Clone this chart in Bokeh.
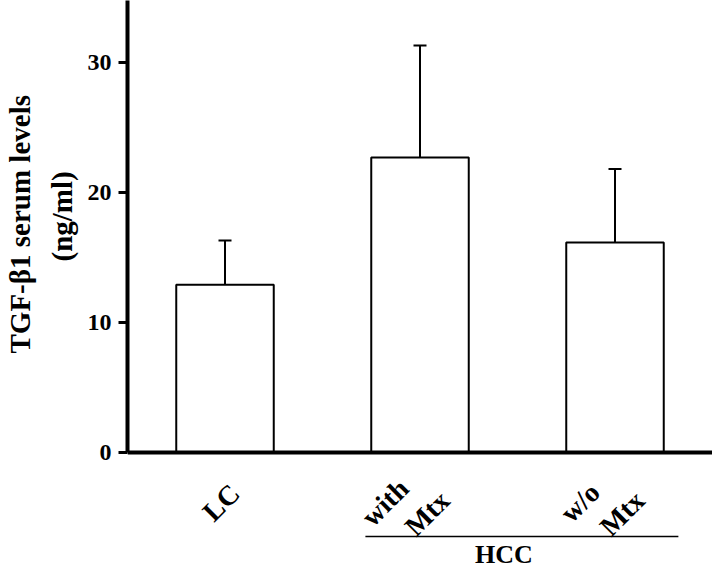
from math import pi
from bokeh.plotting import figure
from bokeh.models import (ColumnDataSource, FactorRange, Range1d, FixedTicker,
                          Whisker, TeeHead, Span, Title)
from bokeh.core.properties import value
from bokeh.transform import dodge
from bokeh.embed import file_html
from bokeh.resources import INLINE

# ---- data ----
groups = ["LC", "with\nMtx", "w/o\nMtx"]
means = [12.9, 22.7, 16.15]          # ng/ml
sds = [3.4, 8.6, 5.65]               # upper error (SD)
y_ticks = [0, 10, 20, 30]
group_label = "HCC"
group_members = ["with\nMtx", "w/o\nMtx"]
y_title = "TGF-\u03b21 serum levels\n(ng/ml)"

upper = [m + s for m, s in zip(means, sds)]
src = ColumnDataSource(dict(g=groups, m=means, u=upper))

FONT = "Liberation Serif"
W, H = 712, 569
Y_TOP, Y_BOT = 34.77, -9.0
PPU = H / (Y_TOP - Y_BOT)            # pixels per data unit (vertical)

p = figure(width=W, height=H,
           x_range=FactorRange(factors=groups, range_padding=0),
           y_range=Range1d(Y_BOT, Y_TOP),
           x_axis_location=None,
           output_backend="svg", toolbar_location=None,
           min_border_left=125, min_border_right=0,
           min_border_top=0, min_border_bottom=0)
p.outline_line_color = None
p.xgrid.visible = False
p.ygrid.visible = False
p.background_fill_color = "white"

p.vbar(x="g", top="m", width=0.5, source=src, fill_color="white",
       line_color="black", line_width=2)

wh = Whisker(base="g", lower="m", upper="u", source=src, dimension="height",
             line_color="black", line_width=2,
             upper_head=TeeHead(size=13, line_width=2, line_color="black"),
             lower_head=None)
p.add_layout(wh)

# x axis line at y = 0
p.add_layout(Span(location=0, dimension="width", line_color="black", line_width=4))

# y axis
yax = p.yaxis[0]
yax.bounds = (0, Y_TOP)
yax.ticker = FixedTicker(ticks=y_ticks)
yax.minor_tick_line_color = None
yax.major_tick_in = 0
yax.major_tick_out = 9
yax.major_tick_line_width = 3
yax.axis_line_width = 4
yax.major_label_text_font = FONT
yax.major_label_text_font_style = "bold"
yax.major_label_text_font_size = "24px"
yax.major_label_text_color = "black"
yax.major_label_standoff = 7

# y axis title: two rotated lines, each centred on the bounded axis
title_lines = y_title.split("\n")
title_offsets = [216, 308]           # px from the frame bottom to each line's start
title_standoffs = [2, 14]
for t, off, so in reversed(list(zip(title_lines, title_offsets, title_standoffs))):
    p.add_layout(Title(text=t, align="left", offset=off, standoff=so,
                       text_font=FONT, text_font_style="bold",
                       text_font_size="29px", text_color="black"), "left")

# category labels (rotated, one text per line)
lx, ly, lt, ldx, ldy = [], [], [], [], []
for g in groups:
    lines = g.split("\n")
    base = (-4, 50) if len(lines) == 1 else (-35, 50)
    for k, t in enumerate(lines):
        lx.append(g)
        ly.append(0)
        lt.append(t)
        ldx.append(base[0] + 42 * k)
        ldy.append(base[1] + 11 * k)
lab_src = ColumnDataSource(dict(x=lx, y=ly, t=lt, dx=ldx, dy=ldy))
p.text(x="x", y="y", text="t", x_offset="dx", y_offset="dy", source=lab_src,
       angle=pi / 4, text_align="center", text_baseline="middle",
       text_font=value(FONT), text_font_style="bold", text_font_size="28px",
       text_color="black")

# group bracket for HCC
grp_src = ColumnDataSource(dict(a=[group_members[0]], b=[group_members[-1]],
                                y=[-84 / PPU], t=[group_label]))
p.segment(x0=dodge("a", -0.28, range=p.x_range), y0="y",
          x1=dodge("b", 0.325, range=p.x_range), y1="y",
          source=grp_src, line_color="black", line_width=1.5)
p.text(x=dodge("a", 0.43, range=p.x_range), y="y", text="t", y_offset=18,
       source=grp_src, text_align="center", text_baseline="middle",
       text_font=value(FONT), text_font_style="bold", text_font_size="26px",
       text_color="black")

open("out.html", "w").write(file_html(p, INLINE))
